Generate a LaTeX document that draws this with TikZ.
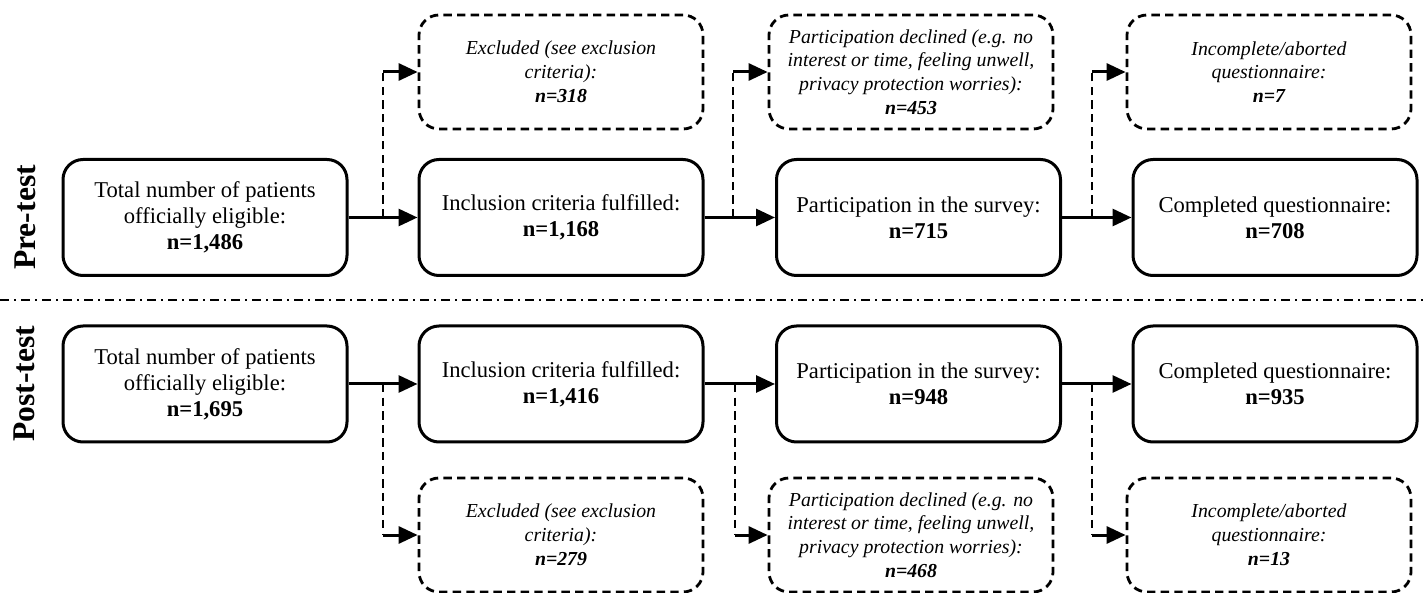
\documentclass[tikz,border=0pt]{standalone}
\usepackage{fontspec}
\setmainfont{Liberation Serif}
\usetikzlibrary{arrows.meta}
\begin{document}
\begin{tikzpicture}[x=0.5pt,y=-0.5pt,
  mainbox/.style={draw, line width=1.5pt, rounded corners=10pt, minimum width=142pt, minimum height=58pt, align=center, font=\fontsize{11.3}{12.9}\selectfont, inner sep=0pt},
  exbox/.style={draw, line width=1.4pt, dash pattern=on 4.2pt off 2.6pt, rounded corners=10pt, minimum width=142pt, minimum height=57pt, align=center, font=\fontsize{9.9}{11.9}\selectfont\itshape, inner sep=0pt},
  flow/.style={line width=1.5pt, -{Triangle[length=9.5pt,width=8.5pt]}},
  branch/.style={line width=1.4pt, dash pattern=on 4.2pt off 2.6pt},
  phase/.style={rotate=90, font=\fontsize{15.8}{18}\selectfont\bfseries, inner sep=0pt},
  sep/.style={line width=1.4pt, dash pattern=on 4.5pt off 2.5pt on 1pt off 2.5pt}
]
\useasboundingbox (0,0) rectangle (1426,593);

% phase labels
\node[phase] (pre) at (25,217.5) {Pre-test};
\node[phase] (post) at (24,384) {Post-test};

% separator
\coordinate (sepL) at (0,300);
\coordinate (sepR) at (1426,300);
\draw[sep] (sepL) -- (sepR);

% pre-test main boxes
\node[mainbox] (m1) at (205,217.5) {Total number of patients\\officially eligible:\\\textbf{n=1,486}};
\node[mainbox] (m2) at (561,217.5) {Inclusion criteria fulfilled:\\\textbf{n=1,168}};
\node[mainbox] (m3) at (918.5,217.5) {Participation in the survey:\\\textbf{n=715}};
\node[mainbox] (m4) at (1275,217.5) {Completed questionnaire:\\\textbf{n=708}};

% pre-test excluded boxes
\node[exbox] (e1) at (561,72) {Excluded (see exclusion\\criteria):\\\textbf{n=318}};
\node[exbox] (e2) at (911,72) {Participation declined (e.g. no\\interest or time, feeling unwell,\\privacy protection worries):\\\textbf{n=453}};
\node[exbox] (e3) at (1269,72) {Incomplete/aborted\\questionnaire:\\\textbf{n=7}};

% post-test main boxes
\node[mainbox] (p1) at (205,384) {Total number of patients\\officially eligible:\\\textbf{n=1,695}};
\node[mainbox] (p2) at (561,384) {Inclusion criteria fulfilled:\\\textbf{n=1,416}};
\node[mainbox] (p3) at (918.5,384) {Participation in the survey:\\\textbf{n=948}};
\node[mainbox] (p4) at (1275,384) {Completed questionnaire:\\\textbf{n=935}};

% post-test excluded boxes
\node[exbox] (f1) at (561,535) {Excluded (see exclusion\\criteria):\\\textbf{n=279}};
\node[exbox] (f2) at (911,535) {Participation declined (e.g. no\\interest or time, feeling unwell,\\privacy protection worries):\\\textbf{n=468}};
\node[exbox] (f3) at (1269,535) {Incomplete/aborted\\questionnaire:\\\textbf{n=13}};

% main flow arrows
\draw[flow] (m1) -- (m2);
\draw[flow] (m2) -- (m3);
\draw[flow] (m3) -- (m4);
\draw[flow] (p1) -- (p2);
\draw[flow] (p2) -- (p3);
\draw[flow] (p3) -- (p4);

% branch points
\coordinate (b1) at (383,217.5);
\coordinate (b2) at (733,217.5);
\coordinate (b3) at (1092,217.5);
\coordinate (c1) at (383,384);
\coordinate (c2) at (735,384);
\coordinate (c3) at (1092,384);

\coordinate (b1t) at (b1 |- e1.west);
\coordinate (b2t) at (b2 |- e2.west);
\coordinate (b3t) at (b3 |- e3.west);
\coordinate (c1t) at (c1 |- f1.west);
\coordinate (c2t) at (c2 |- f2.west);
\coordinate (c3t) at (c3 |- f3.west);

\draw[branch] (b1) -- (b1t);
\draw[branch] (b2) -- (b2t);
\draw[branch] (b3) -- (b3t);
\draw[branch] (c1) -- (c1t);
\draw[branch] (c2) -- (c2t);
\draw[branch] (c3) -- (c3t);

\draw[flow] (b1t) -- (e1.west);
\draw[flow] (b2t) -- (e2.west);
\draw[flow] (b3t) -- (e3.west);
\draw[flow] (c1t) -- (f1.west);
\draw[flow] (c2t) -- (f2.west);
\draw[flow] (c3t) -- (f3.west);
\end{tikzpicture}
\end{document}
